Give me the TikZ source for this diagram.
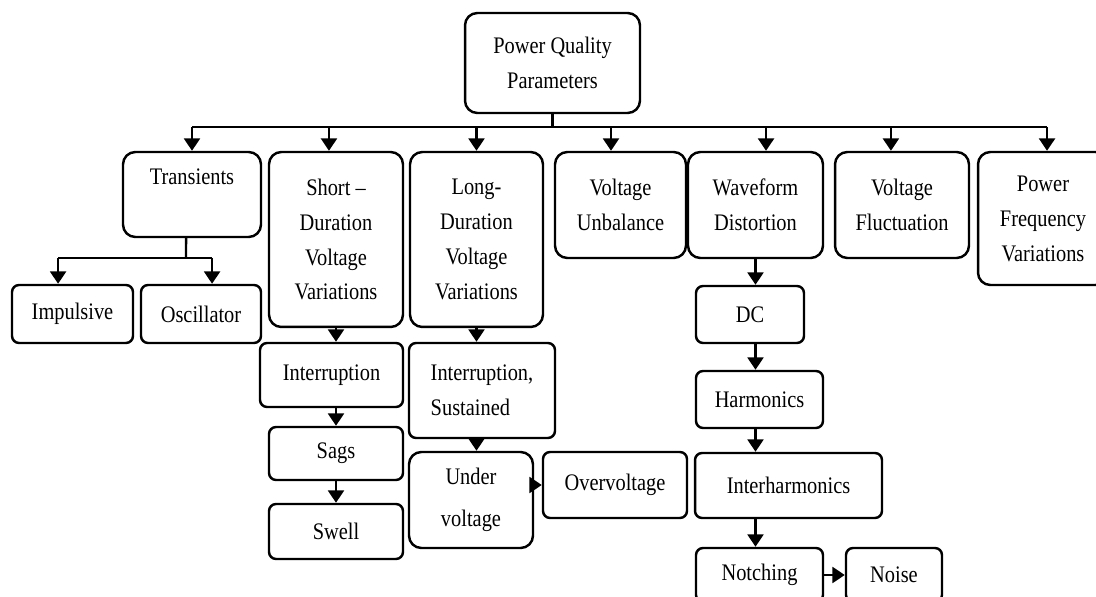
\documentclass[tikz,border=0pt]{standalone}
\usepackage{fontspec}
\setmainfont{Liberation Serif}[FakeStretch=0.86]
\usepackage{tikz}
\usetikzlibrary{arrows.meta, calc}
\tikzstyle{line} = [draw, line width=1.4pt, -{Triangle[width=9pt, length=7pt]}]
\tikzstyle{bus} = [draw, line width=1.4pt]
\tikzstyle{box} = [rectangle, draw, line width=1.4pt, rounded corners=4pt, inner sep=0pt, align=center]
\tikzstyle{tallbox} = [box, rounded corners=7pt]

\begin{document}
\begin{tikzpicture}[x=0.02cm, y=-0.02cm, every node/.style={font=\fontsize{13.5}{19.9}\selectfont}]
	\useasboundingbox (0,0) rectangle (1096,597);

	\node [tallbox, minimum width=3.5cm, minimum height=2cm] (root) at (552.5,63) {Power Quality\\Parameters};

	\node [tallbox, minimum width=2.76cm, minimum height=1.7cm] (trans) at (192,194.5) {Transients\\~};
	\node [tallbox, minimum width=2.68cm, minimum height=3.5cm] (short) at (336,239.5) {Short –\\Duration\\Voltage\\Variations};
	\node [tallbox, minimum width=2.66cm, minimum height=3.5cm] (long) at (476.5,239.5) {Long-\\Duration\\Voltage\\Variations};
	\node [tallbox, minimum width=2.62cm, minimum height=2.12cm] (unbal) at (620.5,205) {Voltage\\Unbalance};
	\node [tallbox, minimum width=2.7cm, minimum height=2.12cm] (wave) at (755.5,205) {Waveform\\Distortion};
	\node [tallbox, minimum width=2.68cm, minimum height=2.12cm] (fluct) at (902,205) {Voltage\\Fluctuation};
	\node [tallbox, minimum width=2.6cm, minimum height=2.66cm] (pfv) at (1043,218.5) {Power\\Frequency\\Variations};

	\node [box, minimum width=2.42cm, minimum height=1.16cm] (impul) at (72.5,314) {Impulsive};
	\node [box, minimum width=2.4cm, minimum height=1.16cm] (oscil) at (201,314) {Oscillator};

	\node [box, minimum width=2.86cm, minimum height=1.28cm] (intr) at (331.5,375) {Interruption};
	\node [box, minimum width=2.68cm, minimum height=1.06cm] (sags) at (336,453.5) {Sags};
	\node [box, minimum width=2.68cm, minimum height=1.1cm] (swell) at (336,531.5) {Swell};

	\node [box, minimum width=2.92cm, minimum height=1.9cm, align=left] (intsus) at (482,390.5) {Interruption,\\Sustained};
	\node [tallbox, minimum width=2.48cm, minimum height=1.92cm] (under) at (471,500) {Under\\[4pt]voltage};
	\node [box, minimum width=2.88cm, minimum height=1.32cm] (over) at (615,485) {Overvoltage};

	\node [box, minimum width=2.16cm, minimum height=1.14cm] (dc) at (750,314.5) {DC};
	\node [box, minimum width=2.54cm, minimum height=1.14cm] (harm) at (759.5,399.5) {Harmonics};
	\node [box, minimum width=3.74cm, minimum height=1.3cm] (inter) at (788.5,485.5) {Interharmonics};
	\node [box, minimum width=2.54cm, minimum height=1.08cm] (notch) at (759.5,575) {Notching};
	\node [box, minimum width=1.92cm, minimum height=1.08cm] (noise) at (894,575) {Noise};

	% main bus
	\coordinate (bus) at (555,127);
	\path [bus] (root.south) -- (root.south |- bus);
	\path [bus] (trans.north |- bus) -- ([xshift=2.3pt]pfv.north |- bus);
	\path [line] (trans.north |- bus) -- (trans.north);
	\path [line] ([xshift=-4pt]short.north |- bus) -- ([xshift=-4pt]short.north);
	\path [line] (long.north |- bus) -- (long.north);
	\path [line] ([xshift=-5.4pt]unbal.north |- bus) -- ([xshift=-5.4pt]unbal.north);
	\path [line] ([xshift=6pt]wave.north |- bus) -- ([xshift=6pt]wave.north);
	\path [line] ([xshift=-6.3pt]fluct.north |- bus) -- ([xshift=-6.3pt]fluct.north);
	\path [line] ([xshift=2.3pt]pfv.north |- bus) -- ([xshift=2.3pt]pfv.north);

	% transients
	\coordinate (tsplit) at (186,258);
	\path [bus] ([xshift=-3.4pt]trans.south) -- (tsplit);
	\path [bus] ([xshift=-8.2pt]impul.north |- tsplit) -- ([xshift=6.3pt]oscil.north |- tsplit);
	\path [line] ([xshift=-8.2pt]impul.north |- tsplit) -- ([xshift=-8.2pt]impul.north);
	\path [line] ([xshift=6.3pt]oscil.north |- tsplit) -- ([xshift=6.3pt]oscil.north);

	% short duration
	\path [line] (short.south) -- (short.south |- intr.north);
	\path [line] (intr.south -| sags.north) -- (sags.north);
	\path [line] (sags.south) -- (swell.north);

	% long duration
	\path [line] (long.south) -- (long.south |- intsus.north);
	\path [line] (intsus.south -| long.south) -- (under.north -| long.south);
	\path [line] (over.west -| under.east) -- (over.west);

	% waveform distortion
	\path [line] (wave.south) -- (wave.south |- dc.north);
	\path [line] (dc.south -| wave.south) -- (harm.north -| wave.south);
	\path [line] (harm.south -| wave.south) -- (inter.north -| wave.south);
	\path [line] (inter.south -| wave.south) -- (notch.north -| wave.south);
	\path [line] (notch.east) -- (noise.west);
\end{tikzpicture}
\end{document}
